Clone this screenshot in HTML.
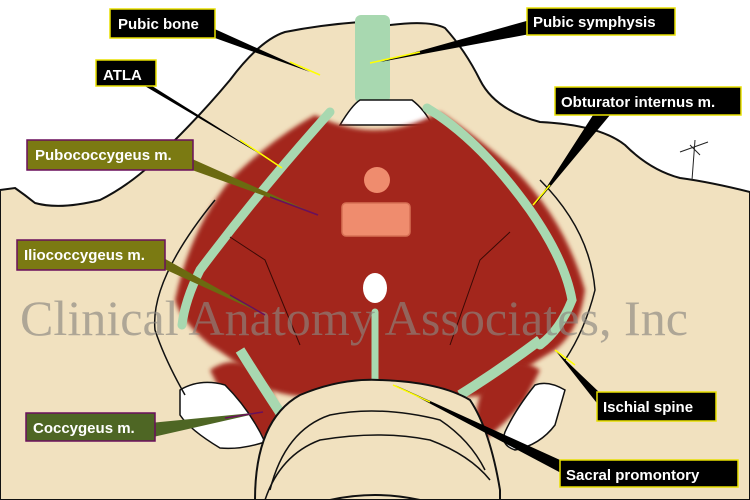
<!DOCTYPE html>
<html><head><meta charset="utf-8"><style>
html,body{margin:0;padding:0;background:#fff}
svg{display:block}
.lb{font-family:"Liberation Sans",sans-serif;font-weight:bold;font-size:15px;fill:#fff}
</style></head><body>
<svg width="750" height="500" viewBox="0 0 750 500" xmlns="http://www.w3.org/2000/svg">
<defs>
<filter id="bl" x="-10%" y="-10%" width="120%" height="120%"><feGaussianBlur stdDeviation="2"/></filter>
</defs>
<rect width="750" height="500" fill="#fff"/>
<path d="M0,190 L15,188 Q25,195 35,203 Q60,210 100,200 Q140,180 175,140 Q205,110 230,80 Q260,40 285,32 Q320,25 360,22 L390,25 Q430,20 445,28 Q465,50 480,80 Q495,110 540,122 Q600,125 625,145 Q650,170 680,178 Q710,182 750,192 L750,500 L0,500 Z" fill="#f1e1bf" stroke="#111" stroke-width="2"/>
<rect x="355" y="15" width="35" height="88" rx="6" fill="#a8d8b0"/>
<path d="M340,125 Q352,105 360,100 L412,100 Q425,110 432,125 Z" fill="#fff" stroke="#111" stroke-width="1.5"/>
<path d="M315,115 Q345,130 375,130 Q405,130 440,112 Q475,135 515,170 Q565,220 585,290 Q580,330 555,350 Q520,370 490,395 Q440,400 420,395 Q380,385 330,395 Q300,400 270,390 Q235,360 210,345 Q180,320 175,300 Q190,230 230,180 Q270,140 315,115 Z" fill="#a3281a" filter="url(#bl)"/>
<path d="M210,370 Q240,350 265,380 Q290,420 270,445 Q240,420 225,400 Z" fill="#a3281a" filter="url(#bl)"/>
<path d="M540,370 Q510,350 485,380 Q470,420 478,445 Q510,420 525,400 Z" fill="#a3281a" filter="url(#bl)"/>
<path d="M180,390 Q200,378 225,385 Q250,410 265,442 Q240,450 220,448 Q190,430 180,415 Z" fill="#fff" stroke="#111" stroke-width="1.5"/>
<path d="M565,390 Q548,380 535,385 Q515,410 505,432 Q500,445 515,450 Q540,445 555,425 Z" fill="#fff" stroke="#111" stroke-width="1.5"/>
<path d="M330,112 Q260,190 200,270 Q185,300 182,325" fill="none" stroke="#a8d8b0" stroke-width="9" stroke-linecap="round"/>
<path d="M427,108 Q480,140 530,210 Q565,260 572,300 Q560,330 540,345" fill="none" stroke="#a8d8b0" stroke-width="9" stroke-linecap="round"/>
<path d="M240,350 Q265,390 285,420" stroke="#a8d8b0" stroke-width="10" fill="none"/>
<path d="M540,340 Q500,370 460,395" stroke="#a8d8b0" stroke-width="10" fill="none"/>
<line x1="375" y1="312" x2="375" y2="382" stroke="#a8d8b0" stroke-width="7" stroke-linecap="round"/>
<path d="M215,200 Q150,280 155,330 Q165,360 185,395" fill="none" stroke="#111" stroke-width="1.5"/>
<path d="M540,180 Q590,230 595,290 Q585,330 565,360" fill="none" stroke="#111" stroke-width="1.5"/>
<path d="M230,237 L265,260 L300,345" fill="none" stroke="#3a0a06" stroke-width="1"/>
<path d="M510,232 L480,260 L450,345" fill="none" stroke="#3a0a06" stroke-width="1"/>
<circle cx="377" cy="180" r="13" fill="#ef8c6e"/>
<rect x="342" y="203" width="68" height="33" rx="4" fill="#ef8c6e" stroke="#d77055" stroke-width="1.5"/>
<ellipse cx="375" cy="288" rx="12" ry="15" fill="#fff"/>
<path d="M255,500 Q255,420 300,395 Q340,378 380,380 Q440,382 470,400 Q490,430 500,490 L500,500 Z" fill="#f1e1bf" stroke="#111" stroke-width="2"/>
<path d="M270,490 Q285,430 330,415 Q380,405 440,420 Q470,440 485,470" fill="none" stroke="#111" stroke-width="1.5"/>
<path d="M265,500 Q280,455 320,440 Q380,430 430,440 Q470,455 490,480" fill="none" stroke="#111" stroke-width="1.5"/>
<path d="M330,500 Q375,490 420,500" fill="none" stroke="#111" stroke-width="2"/>
<path d="M695,140 L692,180 M680,152 L708,142 M690,145 L700,155" stroke="#222" stroke-width="1" fill="none"/>
<text x="20" y="335" font-family="'Liberation Serif',serif" font-size="50" textLength="668" lengthAdjust="spacingAndGlyphs" fill="#8a8680" fill-opacity="0.65">Clinical Anatomy Associates, Inc</text>
<g>
<polygon points="208,26 215,38 310,72" fill="#000"/><line x1="290" y1="62" x2="320" y2="75" stroke="#ff0" stroke-width="1.5"/>
<polygon points="138,82 152,86 270,160" fill="#000"/><line x1="240" y1="140" x2="282" y2="168" stroke="#ff0" stroke-width="1.5"/>
<polygon points="190,158 192,170 318,215" fill="#6b6a10"/><line x1="270" y1="197" x2="318" y2="215" stroke="#6a0f5c" stroke-width="1.5"/>
<polygon points="160,256 162,268 265,315" fill="#6b6a10"/><line x1="230" y1="295" x2="265" y2="315" stroke="#6a0f5c" stroke-width="1.5"/>
<polygon points="150,423 153,437 263,412" fill="#4e6624"/><line x1="225" y1="418" x2="263" y2="412" stroke="#6a0f5c" stroke-width="1.5"/>
<polygon points="530,20 530,34 380,62" fill="#000"/><line x1="420" y1="52" x2="370" y2="63" stroke="#ff0" stroke-width="1.5"/>
<polygon points="595,112 610,115 535,205" fill="#000"/><line x1="550" y1="185" x2="533" y2="205" stroke="#ff0" stroke-width="1.5"/>
<polygon points="600,393 600,407 555,350" fill="#000"/><line x1="575" y1="365" x2="555" y2="350" stroke="#ff0" stroke-width="1.5"/>
<polygon points="560,460 563,474 395,385" fill="#000"/><line x1="430" y1="402" x2="393" y2="385" stroke="#ff0" stroke-width="1.5"/>
</g>
<rect x="110" y="9" width="105" height="29" fill="#000" stroke="#e8e000" stroke-width="1.5"/><text class="lb" x="118" y="29">Pubic bone</text>
<rect x="96" y="60" width="60" height="26" fill="#000" stroke="#e8e000" stroke-width="1.5"/><text class="lb" x="103" y="80">ATLA</text>
<rect x="27" y="140" width="166" height="30" fill="#7b7a12" stroke="#6a0f5c" stroke-width="1.5"/><text class="lb" x="35" y="160">Pubococcygeus m.</text>
<rect x="17" y="240" width="148" height="30" fill="#7b7a12" stroke="#6a0f5c" stroke-width="1.5"/><text class="lb" x="24" y="260">Iliococcygeus m.</text>
<rect x="26" y="413" width="129" height="28" fill="#4e6624" stroke="#6a0f5c" stroke-width="1.5"/><text class="lb" x="33" y="433">Coccygeus m.</text>
<rect x="527" y="8" width="148" height="27" fill="#000" stroke="#e8e000" stroke-width="1.5"/><text class="lb" x="533" y="27">Pubic symphysis</text>
<rect x="555" y="87" width="186" height="28" fill="#000" stroke="#e8e000" stroke-width="1.5"/><text class="lb" x="561" y="107">Obturator internus m.</text>
<rect x="597" y="392" width="119" height="29" fill="#000" stroke="#e8e000" stroke-width="1.5"/><text class="lb" x="603" y="412">Ischial spine</text>
<rect x="560" y="460" width="178" height="27" fill="#000" stroke="#e8e000" stroke-width="1.5"/><text class="lb" x="566" y="480">Sacral promontory</text>
</svg>
</body></html>
